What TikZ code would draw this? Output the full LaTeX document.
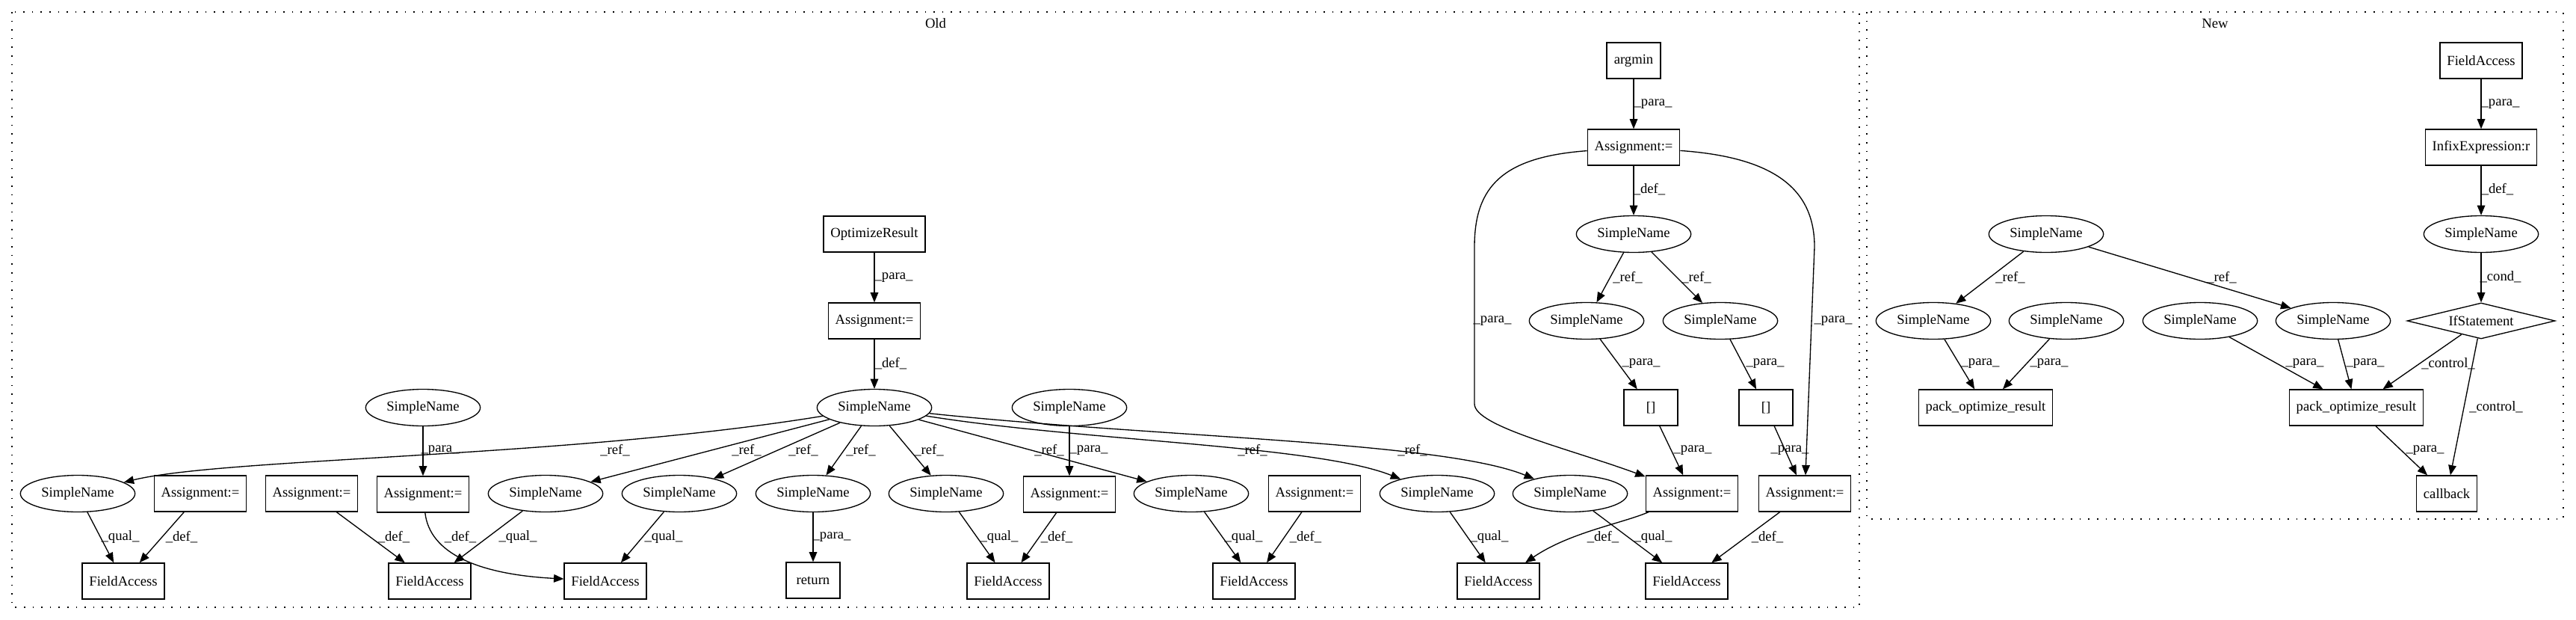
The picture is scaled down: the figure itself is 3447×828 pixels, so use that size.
\documentclass[tikz,border=0pt]{standalone}
\usepackage{fontspec}
\setmainfont{Liberation Serif}
\usetikzlibrary{positioning, arrows.meta, shapes.geometric}

\begin{document}
\begin{tikzpicture}
    [
        x=0.75pt, y=-0.75pt, node distance=87pt, on grid,
        >={Triangle[length=10pt, width=8pt]},
        sname/.style={ellipse, draw=black, line width=1pt, minimum width=115pt, minimum height=36.75pt, inner sep=0pt, font=\fontsize{14pt}{16pt}\selectfont},
        opbox/.style={rectangle, draw=black, line width=1pt, minimum width=54pt, minimum height=36pt, inner xsep=7pt, inner ysep=0pt, font=\fontsize{14pt}{16pt}\selectfont},
        ifnode/.style={diamond, aspect=4, draw=black, line width=1pt, minimum width=148.5pt, minimum height=36pt, inner sep=0pt, font=\fontsize{14pt}{16pt}\selectfont},
        elab/.style={inner sep=0pt, font=\fontsize{14pt}{16pt}\selectfont},
        link/.style={->, line width=1pt, color=black},
        frame/.style={line width=1pt, dash pattern=on 1.2pt off 7.5pt},
    ]
        \useasboundingbox (0,0) rectangle (3447,828);
        \draw[frame] (16,16) rectangle (2488,812);
        \draw[frame] (2498,16) rectangle (3430,694);
        \node[elab] (oldtitle) at (1252,31) {Old};
        \node[elab] (newtitle) at (2964,31) {New};

        % old
        \node[opbox] (optres) at (1170,313) {OptimizeResult};
        \node[opbox] (asgopt) [below = of optres] {Assignment:=};
        \node[sname] (hub) [below = of asgopt] {SimpleName};
        \node[opbox] (argmin) at (2186,81) {argmin};
        \node[opbox] (asgmin) [below = of argmin] {Assignment:=};
        \node[sname] (snmin) [below = of asgmin] {SimpleName};
        \node[sname] (snminl) at (2123,429) {SimpleName};
        \node[sname] (snminr) at (2302,429) {SimpleName};
        \node[opbox] (brl) at (2209,545) {[]};
        \node[opbox] (brr) at (2363,545) {[]};
        \node[sname] (snpa) at (566,545) {SimpleName};
        \node[sname] (snpb) at (1431,545) {SimpleName};
        \node[sname] (sn1) at (104,660) {SimpleName};
        \node[opbox] (asg1) at (268,660) {Assignment:=};
        \node[opbox] (asg2) at (417,660) {Assignment:=};
        \node[opbox] (asg3) [below = of snpa] {Assignment:=};
        \node[sname] (sn2) at (730,660) {SimpleName};
        \node[sname] (sn3) at (909,660) {SimpleName};
        \node[sname] (sn4) at (1088,660) {SimpleName};
        \node[sname] (sn5) at (1266,660) {SimpleName};
        \node[opbox] (asg4) [below = of snpb] {Assignment:=};
        \node[sname] (sn6) at (1594,660) {SimpleName};
        \node[opbox] (asg5) at (1759,660) {Assignment:=};
        \node[sname] (sn7) at (1923,660) {SimpleName};
        \node[sname] (sn8) at (2101,660) {SimpleName};
        \node[opbox] (asg6) at (2264,660) {Assignment:=};
        \node[opbox] (asg7) at (2415,660) {Assignment:=};
        \node[opbox] (fa1) at (165,777) {FieldAccess};
        \node[opbox] (fa2) at (575,777) {FieldAccess};
        \node[opbox] (fa3) at (810,777) {FieldAccess};
        \node[opbox] (ret) [below = of sn4] {return};
        \node[opbox] (fa4) at (1349,777) {FieldAccess};
        \node[opbox] (fa5) at (1678,777) {FieldAccess};
        \node[opbox] (fa6) at (2005,777) {FieldAccess};
        \node[opbox] (fa7) at (2257,777) {FieldAccess};

        % new
        \node[opbox] (fanew) at (3320,81) {FieldAccess};
        \node[opbox] (infix) [below = of fanew] {InfixExpression:r};
        \node[sname] (snif) [below = of infix] {SimpleName};
        \node[ifnode] (ifst) [below = of snif] {IfStatement};
        \node[opbox] (callback) at (3274,660) {callback};
        \node[sname] (sntop) at (2738,313) {SimpleName};
        \node[sname] (sna) at (2587,429) {SimpleName};
        \node[sname] (snb) at (2765,429) {SimpleName};
        \node[sname] (snc) at (2944,429) {SimpleName};
        \node[sname] (snd) at (3122,429) {SimpleName};
        \node[opbox] (packa) at (2657,545) {pack\_optimize\_result};
        \node[opbox] (packb) at (3153,545) {pack\_optimize\_result};

        % old edges
        \draw[link] (optres) -- (asgopt) node[elab] at (1196,371) {\_para\_};
        \draw[link] (asgopt) -- (hub) node[elab] at (1192,486) {\_def\_};
        \draw[link] (hub) .. controls (760,612) and (300,612) .. (sn1) node[elab] at (823,602) {\_ref\_};
        \draw[link] (hub) -- (sn2) node[elab] at (999,602) {\_ref\_};
        \draw[link] (hub) -- (sn3) node[elab] at (1075,602) {\_ref\_};
        \draw[link] (hub) -- (sn4) node[elab] at (1152,602) {\_ref\_};
        \draw[link] (hub) -- (sn5) node[elab] at (1243,602) {\_ref\_};
        \draw[link] (hub) -- (sn6) node[elab] at (1404,602) {\_ref\_};
        \draw[link] (hub) .. controls (1450,590) and (1760,595) .. (sn7) node[elab] at (1676,602) {\_ref\_};
        \draw[link] (hub) .. controls (1550,585) and (1930,590) .. (sn8) node[elab] at (1890,602) {\_ref\_};
        \draw[link] (snpa) -- (asg3) node[elab] at (589,602) {\_para\_};
        \draw[link] (snpb) -- (asg4) node[elab] at (1457,602) {\_para\_};
        \draw[link] (sn1) -- (fa1) node[elab] at (161,718) {\_qual\_};
        \draw[link] (asg1) -- (fa1) node[elab] at (243,718) {\_def\_};
        \draw[link] (asg2) -- (fa2) node[elab] at (527,718) {\_def\_};
        \draw[link] (asg3) .. controls (575,740) and (640,768) .. (fa3) node[elab] at (616,718) {\_def\_};
        \draw[link] (sn2) -- (fa2) node[elab] at (693,718) {\_qual\_};
        \draw[link] (sn3) -- (fa3) node[elab] at (888,718) {\_qual\_};
        \draw[link] (sn4) -- (ret) node[elab] at (1113,718) {\_para\_};
        \draw[link] (sn5) -- (fa4) node[elab] at (1337,718) {\_qual\_};
        \draw[link] (asg4) -- (fa4) node[elab] at (1414,718) {\_def\_};
        \draw[link] (sn6) -- (fa5) node[elab] at (1664,718) {\_qual\_};
        \draw[link] (asg5) -- (fa5) node[elab] at (1747,718) {\_def\_};
        \draw[link] (sn7) -- (fa6) node[elab] at (1993,718) {\_qual\_};
        \draw[link] (asg6) .. controls (2170,700) and (2100,712) .. (fa6) node[elab] at (2145,718) {\_def\_};
        \draw[link] (sn8) -- (fa7) node[elab] at (2212,718) {\_qual\_};
        \draw[link] (asg7) -- (fa7) node[elab] at (2365,718) {\_def\_};
        \draw[link] (argmin) -- (asgmin) node[elab] at (2212,139) {\_para\_};
        \draw[link] (asgmin) -- (snmin) node[elab] at (2207,253) {\_def\_};
        \draw[link] (snmin) -- (snminl) node[elab] at (2178,371) {\_ref\_};
        \draw[link] (snmin) -- (snminr) node[elab] at (2270,371) {\_ref\_};
        \draw[link] (asgmin) .. controls (2010,210) and (1973,250) .. (1973,330) -- (1973,540) .. controls (1973,570) and (2100,600) .. (asg6) node[elab] at (1997,429) {\_para\_};
        \draw[link] (asgmin) .. controls (2370,210) and (2428,250) .. (2428,330) -- (asg7) node[elab] at (2453,429) {\_para\_};
        \draw[link] (snminl) -- (brl) node[elab] at (2196,486) {\_para\_};
        \draw[link] (snminr) -- (brr) node[elab] at (2362,486) {\_para\_};
        \draw[link] (brl) -- (asg6) node[elab] at (2265,602) {\_para\_};
        \draw[link] (brr) -- (asg7) node[elab] at (2395,602) {\_para\_};

        % new edges
        \draw[link] (fanew) -- (infix) node[elab] at (3346,139) {\_para\_};
        \draw[link] (infix) -- (snif) node[elab] at (3342,253) {\_def\_};
        \draw[link] (snif) -- (ifst) node[elab] at (3346,370) {\_cond\_};
        \draw[link] (sntop) -- (sna) node[elab] at (2690,371) {\_ref\_};
        \draw[link] (sntop) -- (snd) node[elab] at (2973,371) {\_ref\_};
        \draw[link] (sna) -- (packa) node[elab] at (2650,486) {\_para\_};
        \draw[link] (snb) -- (packa) node[elab] at (2742,486) {\_para\_};
        \draw[link] (snc) -- (packb) node[elab] at (3084,486) {\_para\_};
        \draw[link] (snd) -- (packb) node[elab] at (3165,486) {\_para\_};
        \draw[link] (ifst) -- (packb) node[elab] at (3276,486) {\_control\_};
        \draw[link] (ifst) -- (callback) node[elab] at (3340,544) {\_control\_};
        \draw[link] (packb) -- (callback) node[elab] at (3245,602) {\_para\_};
    \end{tikzpicture}
\end{document}
